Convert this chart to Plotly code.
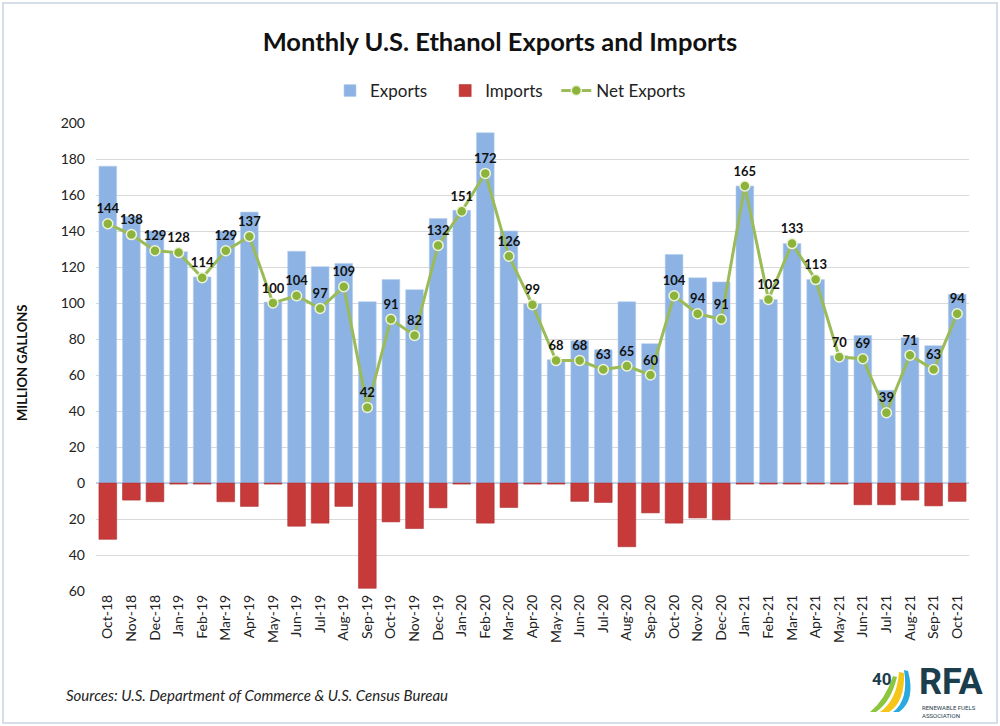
import plotly.graph_objects as go

months = ["Oct-18","Nov-18","Dec-18","Jan-19","Feb-19","Mar-19","Apr-19","May-19","Jun-19","Jul-19",
          "Aug-19","Sep-19","Oct-19","Nov-19","Dec-19","Jan-20","Feb-20","Mar-20","Apr-20","May-20",
          "Jun-20","Jul-20","Aug-20","Sep-20","Oct-20","Nov-20","Dec-20","Jan-21","Feb-21","Mar-21",
          "Apr-21","May-21","Jun-21","Jul-21","Aug-21","Sep-21","Oct-21"]
exports = [176, 148, 140, 128.5, 114.5, 140, 150.5, 100.5, 128.7, 120.2,
           122, 100.7, 113, 107.4, 147, 151.5, 194.6, 140, 99.6, 68.5,
           79, 74, 100.7, 77.4, 127, 114, 111.7, 165, 102, 133,
           113, 70.7, 81.9, 51.5, 80.7, 76.3, 104.8]
imports = [31.3, 9.5, 10.4, 0.6, 0.6, 10.4, 13, 0.6, 24, 22.3,
           13, 58.5, 21.6, 25.3, 13.8, 0.6, 22.3, 13.6, 0.6, 0.6,
           10.2, 10.8, 35.4, 16.6, 22.3, 19.4, 20.5, 0.6, 0.6, 0.6,
           0.6, 0.6, 12.1, 12.1, 9.5, 12.7, 10.2]
net_exports = [144, 138, 129, 128, 114, 129, 137, 100, 104, 97,
               109, 42, 91, 82, 132, 151, 172, 126, 99, 68,
               68, 63, 65, 60, 104, 94, 91, 165, 102, 133,
               113, 70, 69, 39, 71, 63, 94]
ytick_vals = [-60, -40, -20, 0, 20, 40, 60, 80, 100, 120, 140, 160, 180, 200]
ytick_text = [str(abs(v)) for v in ytick_vals]

FONT = "Lato"
W, H = 1000, 726
ML, MR, MT, MB = 96, 31, 123, 135
PW, PH = W - ML - MR, H - MT - MB
NB = "\u00a0"

def px(x):
    return (x - ML) / PW

def py(y):
    return (H - MB - y) / PH

fig = go.Figure()
fig.add_trace(go.Bar(x=months, y=exports, name="Exports" + NB * 3,
                     marker=dict(color="#8cb3e3", line=dict(color="#b5cfee", width=0.6))))
fig.add_trace(go.Bar(x=months, y=[-v for v in imports], name="Imports" + NB * 2,
                     marker=dict(color="#c63a3a", line=dict(color="#b03030", width=0.6))))
fig.add_trace(go.Scatter(x=months, y=net_exports, name="Net Exports", mode="lines+markers+text",
                         line=dict(color="#9bbb59", width=3),
                         marker=dict(color="#8cb33a", size=10, line=dict(color="#eef3dc", width=1.5)),
                         text=[str(v) for v in net_exports], textposition="top center",
                         textfont=dict(family=FONT, size=13, color="#111111", weight="bold"),
                         cliponaxis=False))

shapes = [
    dict(type="rect", xref="paper", yref="paper", x0=px(3), x1=px(997), y0=py(723), y1=py(3),
         line=dict(color="#d5dde8", width=2), fillcolor="rgba(0,0,0,0)", layer="below"),
    # logo swooshes
    dict(type="path", xref="paper", yref="paper",
         path=f"M {px(870)},{py(712)} Q {px(885)},{py(700)} {px(893)},{py(676)} L {px(897)},{py(677)} Q {px(891)},{py(702)} {px(876)},{py(712)} Z",
         fillcolor="#8cc63f", line=dict(width=0)),
    dict(type="path", xref="paper", yref="paper",
         path=f"M {px(880)},{py(712)} Q {px(897)},{py(700)} {px(899)},{py(672)} L {px(904)},{py(673)} Q {px(905)},{py(702)} {px(889)},{py(712)} Z",
         fillcolor="#f5c518", line=dict(width=0)),
    dict(type="path", xref="paper", yref="paper",
         path=f"M {px(893)},{py(712)} Q {px(909)},{py(700)} {px(904)},{py(670)} L {px(908)},{py(671)} Q {px(916)},{py(700)} {px(899)},{py(712)} Z",
         fillcolor="#29a9e0", line=dict(width=0)),
]

annotations = [
    dict(text="MILLION GALLONS", xref="paper", yref="paper", x=px(22), y=py(363), textangle=-90,
         xanchor="center", yanchor="middle",
         showarrow=False, font=dict(family=FONT, size=13, color="#111111", weight="bold")),
    dict(text="<i>Sources: U.S. Department of Commerce & U.S. Census Bureau</i>", xref="paper", yref="paper",
         x=px(64), y=py(695), xanchor="left", yanchor="middle", showarrow=False,
         font=dict(family=FONT, size=15, color="#222222")),
    dict(text="<b>RFA</b>", xref="paper", yref="paper", x=px(917), y=py(682), xanchor="left", yanchor="middle",
         showarrow=False, font=dict(family="Roboto", size=36, color="#1c3d4c")),
    dict(text="<b>40</b>", xref="paper", yref="paper", x=px(882), y=py(679), xanchor="center", yanchor="middle",
         showarrow=False, font=dict(family="Roboto", size=17, color="#1c3d4c")),
    dict(text="RENEWABLE FUELS<br>ASSOCIATION", xref="paper", yref="paper", x=px(920), y=py(711),
         xanchor="left", yanchor="middle", align="left", showarrow=False,
         font=dict(family="Roboto", size=6, color="#1c3d4c")),
]

fig.update_layout(
    width=W, height=H,
    margin=dict(l=ML, r=MR, t=MT, b=MB, autoexpand=False),
    paper_bgcolor="white", plot_bgcolor="white",
    barmode="relative", bargap=0.25,
    font=dict(family=FONT, size=14, color="#222222"),
    title=dict(text="<b>Monthly U.S. Ethanol Exports and Imports</b>", x=0.5, xanchor="center", xref="container",
               y=1 - 42 / H, yanchor="middle", font=dict(family=FONT, size=25.5, color="#111111")),
    legend=dict(orientation="h", x=0.33, xanchor="left", xref="container", y=1 - 91 / H, yref="container",
                yanchor="middle", font=dict(family=FONT, size=17, color="#222222"), traceorder="normal"),
    shapes=shapes, annotations=annotations,
    showlegend=True,
)
fig.update_xaxes(type="category", range=[-0.5, 36.5], tickangle=-90, showgrid=False, ticks="",
                 tickfont=dict(family=FONT, size=14, color="#222222"), showline=False, automargin=False)
fig.update_yaxes(range=[-60, 200], tickvals=ytick_vals, ticktext=ytick_text, showgrid=True,
                 gridcolor="#d9d9d9", gridwidth=1, zeroline=True, zerolinecolor="#bcd3ee", zerolinewidth=2,
                 tickfont=dict(family=FONT, size=14, color="#222222"), ticks="", ticklabelstandoff=10,
                 automargin=False)

fig.write_html("out.html")
